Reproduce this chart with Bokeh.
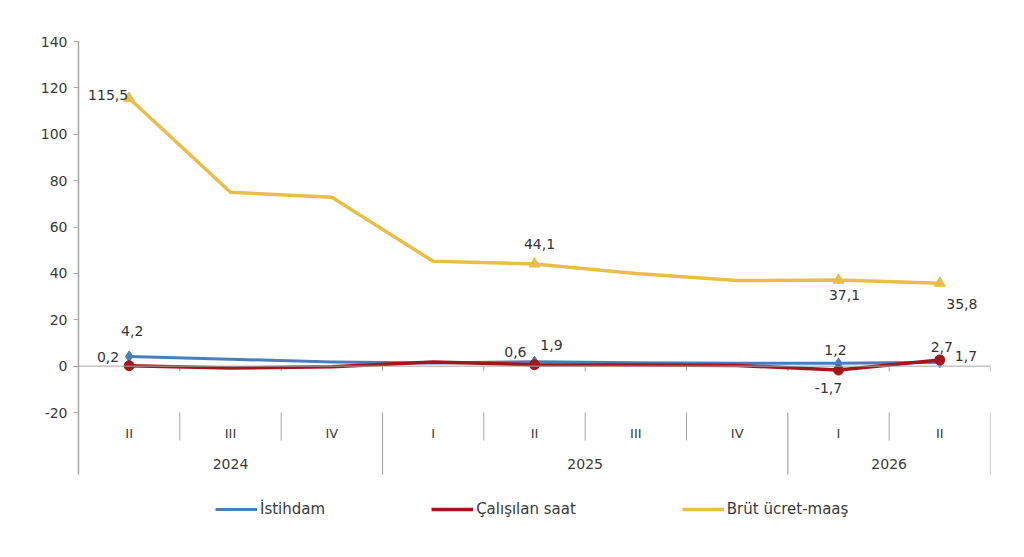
from bokeh.plotting import figure
from bokeh.models import Range1d, FixedTicker, Legend, LegendItem, Span
from bokeh.core.properties import value
from bokeh.embed import file_html
from bokeh.resources import INLINE
import math

# ---- data ----
quarters = ["II", "III", "IV", "I", "II", "III", "IV", "I", "II"]
years = ["2024", "2025", "2026"]
year_quarter_counts = [3, 4, 2]
istihdam = [4.2, 3.0, 1.8, 1.4, 1.9, 1.5, 1.3, 1.2, 1.7]
calisilan_saat = [0.2, -0.8, -0.3, 1.8, 0.6, 0.5, 0.3, -1.7, 2.7]
brut_ucret = [115.5, 75.0, 72.8, 45.2, 44.1, 40.0, 36.9, 37.1, 35.8]
labelled_idx = [0, 4, 7, 8]
y_ticks = [-20, 0, 20, 40, 60, 80, 100, 120, 140]
y_tick_labels = ["-20", "0", "20", "40", "60", "80", "100", "120", "140"]
series_names = ["İstihdam", "Çalışılan saat", "Brüt ücret-maaş"]

# ---- styles ----
FONT = "DejaVu Sans"
C_BLUE = "#4A7EBB"
C_RED = "#A3171C"
C_GOLD = "#E9BE48"
C_AXIS = "#A6A6A6"
C_TEXT = "#3A3A3A"

# label placement per series: (dx, dy_up, align) for each labelled index
label_pos = {
    "brut": [(-1, 3, "right"), (5, 20, "center"), (6, -15, "center"), (22, -21, "center")],
    "ist": [(3, 25, "center"), (17, 17, "center"), (-3, 13, "center"), (15, 6, "left")],
    "cal": [(-10, 9, "right"), (-8, 13, "right"), (-10, -18, "center"), (2, 13, "center")],
}

n = len(quarters)
xs = list(range(n))

p = figure(width=1008, height=549,
           x_range=Range1d(-0.5, n - 0.5), y_range=Range1d(-72.6, 140),
           output_backend="svg", toolbar_location=None,
           x_axis_location=None, y_axis_location="left",
           min_border_left=78, min_border_right=18,
           min_border_top=41, min_border_bottom=15)
p.xgrid.visible = False
p.ygrid.visible = False
p.outline_line_color = None
p.background_fill_color = "white"

ax = p.yaxis[0]
ax.ticker = FixedTicker(ticks=y_ticks)
ax.major_label_overrides = {t: l for t, l in zip(y_ticks, y_tick_labels)}
ax.bounds = (-46.6, 140)
ax.axis_line_color = C_AXIS
ax.axis_line_width = 1.5
ax.major_tick_line_color = C_AXIS
ax.major_tick_in = 0
ax.major_tick_out = 5
ax.minor_tick_line_color = None
ax.major_label_standoff = 6
ax.major_label_text_font = FONT
ax.major_label_text_font_size = "14px"
ax.major_label_text_color = C_TEXT

# zero line with category tick marks
p.add_layout(Span(location=0, dimension="width", line_color=C_AXIS, line_width=1))
bounds = [i + 0.5 for i in range(n)]
year_edges = []
acc = -0.5
for c in year_quarter_counts:
    acc += c
    year_edges.append(acc)
quarter_edges = [b for b in bounds if b not in year_edges]
p.ray(x=bounds, y=[0] * len(bounds), length=5, length_units="screen",
      angle=-math.pi / 2, line_color=C_AXIS, line_width=1)
# separators of the category label area
p.ray(x=quarter_edges, y=[y_ticks[0]] * len(quarter_edges), length=28, length_units="screen",
      angle=-math.pi / 2, line_color=C_AXIS, line_width=1)
p.ray(x=year_edges, y=[y_ticks[0]] * len(year_edges), length=62, length_units="screen",
      angle=-math.pi / 2, line_color=C_AXIS, line_width=1.2)

# quarter and year labels
p.text(x=xs, y=[y_ticks[0]] * n, text=quarters, y_offset=21,
       text_align="center", text_baseline="middle",
       text_font=value(FONT), text_font_size="13px", text_color=C_TEXT)
year_centers = []
start = 0
for c in year_quarter_counts:
    year_centers.append(start + (c - 1) / 2)
    start += c
p.text(x=year_centers, y=[y_ticks[0]] * len(years), text=years, y_offset=51,
       text_align="center", text_baseline="middle",
       text_font=value(FONT), text_font_size="14px", text_color=C_TEXT)

# series lines
l_gold = p.line(xs, brut_ucret, line_color=C_GOLD, line_width=3.5, line_join="round")
l_blue = p.line(xs, istihdam, line_color=C_BLUE, line_width=3, line_join="round")
l_red = p.line(xs, calisilan_saat, line_color=C_RED, line_width=3.5, line_join="round")

lx = [xs[i] for i in labelled_idx]
p.scatter(lx, [brut_ucret[i] for i in labelled_idx], marker="triangle", size=11,
          fill_color=C_GOLD, line_color=C_GOLD)
p.scatter(lx, [istihdam[i] for i in labelled_idx], marker="diamond", size=11,
          fill_color=C_BLUE, line_color=C_BLUE)
p.scatter(lx, [calisilan_saat[i] for i in labelled_idx], marker="circle", size=10,
          fill_color=C_RED, line_color=C_RED)

# legend marker stand-ins (small)
m_gold = p.scatter([], [], marker="triangle", size=6, fill_color=C_GOLD, line_color=C_GOLD)
m_blue = p.scatter([], [], marker="diamond", size=6, fill_color=C_BLUE, line_color=C_BLUE)
m_red = p.scatter([], [], marker="circle", size=5, fill_color=C_RED, line_color=C_RED)


def fmt(v):
    return f"{v:.1f}".replace(".", ",")


def add_labels(vals, key):
    for (dx, dy, align), i in zip(label_pos[key], labelled_idx):
        p.text(x=[xs[i]], y=[vals[i]], text=[fmt(vals[i])],
               x_offset=dx, y_offset=-dy, text_align=align, text_baseline="middle",
               text_font=value(FONT), text_font_size="14px", text_color="#333333")


add_labels(brut_ucret, "brut")
add_labels(istihdam, "ist")
add_labels(calisilan_saat, "cal")

legend = Legend(items=[
    LegendItem(label=series_names[0], renderers=[l_blue, m_blue]),
    LegendItem(label=series_names[1], renderers=[l_red, m_red]),
    LegendItem(label=series_names[2], renderers=[l_gold, m_gold]),
], orientation="horizontal", location=(137, 15), spacing=106,
    glyph_width=42, glyph_height=20, label_standoff=3, padding=0, margin=0,
    border_line_color=None, background_fill_alpha=0,
    label_text_font=FONT, label_text_font_size="15px", label_text_color=C_TEXT)
p.add_layout(legend)

open("out.html", "w").write(file_html(p, INLINE))
